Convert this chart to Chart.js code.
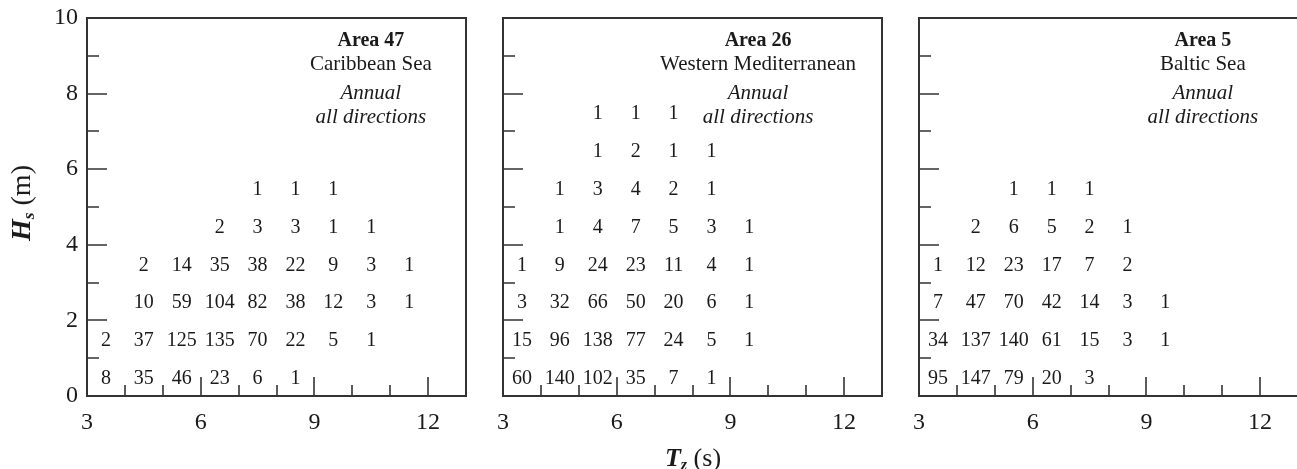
<!DOCTYPE html>
<html>
<head>
<meta charset="utf-8">
<script src="https://cdn.jsdelivr.net/npm/chart.js@4.4.1/dist/chart.umd.min.js"></script>
<style>
  html, body { margin: 0; padding: 0; background: #fff; }
  #wrap { position: relative; width: 1297px; height: 469px; overflow: hidden; background: #fff; }
  canvas { position: absolute; top: 0; }
  .axis-title {
    position: absolute;
    font-family: "Liberation Serif", "Times New Roman", serif;
    color: #1a1a1a;
    white-space: nowrap;
    line-height: 1;
  }
  .axis-title .sym { font-weight: bold; font-style: italic; }
  .axis-title .sub { font-weight: bold; font-style: italic; font-size: 0.62em; position: relative; top: 0.22em; }
  #ytitle { font-size: 28px; left: 21px; top: 203px; transform: translate(-50%, -50%) rotate(-90deg); }
  #xtitle { font-size: 26px; left: 693px; top: 458px; transform: translate(-50%, -50%); }
</style>
</head>
<body>
<div id="wrap">
  <canvas id="p47" width="480" height="469" style="left:0px"></canvas>
  <canvas id="p26" width="480" height="469" style="left:416px"></canvas>
  <canvas id="p5" width="480" height="469" style="left:832px"></canvas>
  <div class="axis-title" id="ytitle"><span class="sym">H</span><span class="sub">s</span> (m)</div>
  <div class="axis-title" id="xtitle"><span class="sym">T</span><span class="sub">z</span> (s)</div>
</div>
<script>
// Class centres of the scatter table
const tzBins = [3.5, 4.5, 5.5, 6.5, 7.5, 8.5, 9.5, 10.5, 11.5, 12.5];
const hsBins = [0.5, 1.5, 2.5, 3.5, 4.5, 5.5, 6.5, 7.5, 8.5, 9.5];

// Tick labels
const xTickLabels = [3, 6, 9, 12];
const yTickLabels = [0, 2, 4, 6, 8, 10];

// Occurrences per Hs band (lowest band first); columns follow tzBins
const area47 = [
  [8, 35, 46, 23, 6, 1],
  [2, 37, 125, 135, 70, 22, 5, 1],
  [null, 10, 59, 104, 82, 38, 12, 3, 1],
  [null, 2, 14, 35, 38, 22, 9, 3, 1],
  [null, null, null, 2, 3, 3, 1, 1],
  [null, null, null, null, 1, 1, 1]
];
const area26 = [
  [60, 140, 102, 35, 7, 1],
  [15, 96, 138, 77, 24, 5, 1],
  [3, 32, 66, 50, 20, 6, 1],
  [1, 9, 24, 23, 11, 4, 1],
  [null, 1, 4, 7, 5, 3, 1],
  [null, 1, 3, 4, 2, 1],
  [null, null, 1, 2, 1, 1],
  [null, null, 1, 1, 1]
];
const area5 = [
  [95, 147, 79, 20, 3],
  [34, 137, 140, 61, 15, 3, 1],
  [7, 47, 70, 42, 14, 3, 1],
  [1, 12, 23, 17, 7, 2],
  [null, 2, 6, 5, 2, 1],
  [null, null, 1, 1, 1]
];

const areaTitles = ['Area 47', 'Area 26', 'Area 5'];
const seaNames = ['Caribbean Sea', 'Western Mediterranean', 'Baltic Sea'];
const periodLines = ['Annual', 'all directions'];

const SERIF = '"Liberation Serif", "Times New Roman", serif';
const INK = '#1a1a1a';
const FRAME = '#333333';

// Frame, inward tick marks, cell counts and the panel heading
const panelDecor = {
  id: 'panelDecor',
  afterDatasetsDraw(chart, args, opts) {
    const { ctx, chartArea: a, scales: { x, y } } = chart;
    ctx.save();

    // frame
    ctx.strokeStyle = FRAME;
    ctx.lineWidth = 2;
    ctx.strokeRect(a.left, a.top, a.right - a.left, a.bottom - a.top);

    // inward ticks
    ctx.lineWidth = 1.6;
    ctx.beginPath();
    x.ticks.forEach(t => {
      if (t.value <= x.min || t.value >= x.max) return;
      const px = Math.round(x.getPixelForValue(t.value));
      const len = xTickLabels.includes(t.value) ? 19 : 11;
      ctx.moveTo(px, a.bottom);
      ctx.lineTo(px, a.bottom - len);
    });
    y.ticks.forEach(t => {
      if (t.value <= y.min || t.value >= y.max) return;
      const py = Math.round(y.getPixelForValue(t.value));
      const len = yTickLabels.includes(t.value) ? 20 : 12;
      ctx.moveTo(a.left, py);
      ctx.lineTo(a.left + len, py);
    });
    ctx.stroke();

    // counts at each cell
    ctx.fillStyle = INK;
    ctx.textAlign = 'center';
    ctx.textBaseline = 'alphabetic';
    ctx.font = '20px ' + SERIF;
    const meta = chart.getDatasetMeta(0);
    const pts = chart.data.datasets[0].data;
    meta.data.forEach((el, i) => {
      ctx.fillText(String(pts[i].v), el.x, el.y + 6.8);
    });

    // heading block
    const hx = x.getPixelForValue(opts.headX);
    ctx.font = 'bold 20px ' + SERIF;
    ctx.fillText(opts.title, hx, y.getPixelForValue(9.26));
    ctx.font = '21px ' + SERIF;
    ctx.fillText(opts.sea, hx, y.getPixelForValue(8.62));
    ctx.font = 'italic 21px ' + SERIF;
    ctx.fillText(periodLines[0], hx, y.getPixelForValue(7.86));
    ctx.fillText(periodLines[1], hx, y.getPixelForValue(7.22));

    ctx.restore();
  }
};

function cellPoints(counts) {
  const pts = [];
  counts.forEach((row, r) => {
    row.forEach((v, c) => {
      if (v !== null && v !== undefined) pts.push({ x: tzBins[c], y: hsBins[r], v: v });
    });
  });
  return pts;
}

function makePanel(id, counts, idx, showYLabels, headX) {
  return new Chart(document.getElementById(id), {
    type: 'scatter',
    data: {
      datasets: [{
        data: cellPoints(counts),
        pointRadius: 0,
        pointHoverRadius: 0,
        showLine: false
      }]
    },
    options: {
      responsive: false,
      animation: false,
      devicePixelRatio: 1,
      events: [],
      layout: { padding: { top: 18, right: 14, left: 0, bottom: 0 } },
      plugins: {
        legend: { display: false },
        tooltip: { enabled: false },
        panelDecor: { title: areaTitles[idx], sea: seaNames[idx], headX: headX }
      },
      scales: {
        x: {
          type: 'linear',
          position: 'bottom',
          min: 3,
          max: 13,
          grid: { display: false, drawTicks: false },
          border: { display: false },
          ticks: {
            stepSize: 1,
            autoSkip: false,
            maxRotation: 0,
            padding: 12,
            color: INK,
            font: { family: SERIF, size: 24 },
            callback: v => (xTickLabels.includes(v) ? String(v) : '')
          },
          afterFit: s => { s.height = 73; s.paddingLeft = 0; s.paddingRight = 0; }
        },
        y: {
          type: 'linear',
          position: 'left',
          min: 0,
          max: 10,
          grid: { display: false, drawTicks: false },
          border: { display: false },
          ticks: {
            display: showYLabels,
            stepSize: 1,
            autoSkip: false,
            padding: 9,
            color: INK,
            font: { family: SERIF, size: 24 },
            callback: v => (yTickLabels.includes(v) ? String(v) : '')
          },
          afterFit: s => { s.width = 87; s.paddingTop = 0; s.paddingBottom = 0; }
        }
      }
    },
    plugins: [panelDecor]
  });
}

makePanel('p47', area47, 0, true, 10.49);
makePanel('p26', area26, 1, false, 9.73);
makePanel('p5', area5, 2, false, 10.49);
</script>
</body>
</html>
